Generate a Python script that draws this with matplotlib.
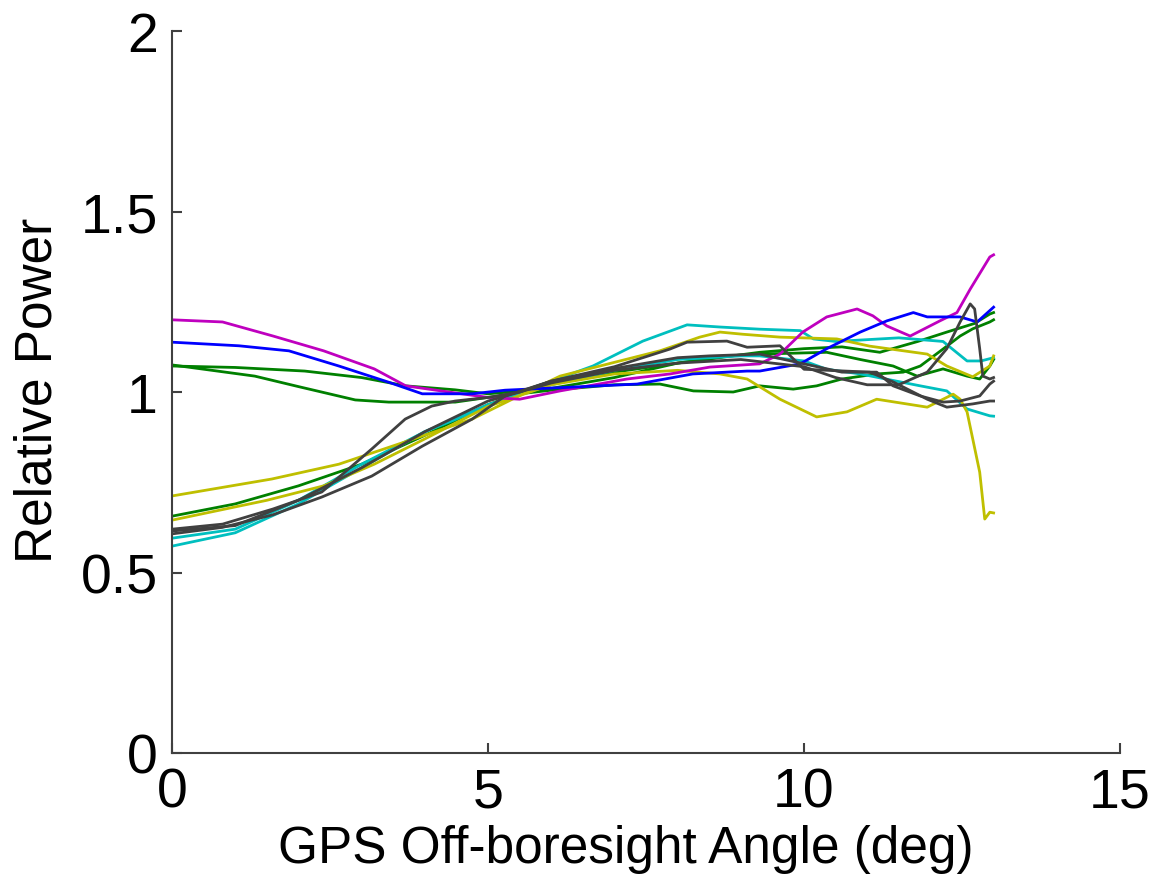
import numpy as np
import matplotlib.pyplot as plt

plt.rcParams['font.family'] = ['Liberation Sans', 'DejaVu Sans']

# relative power vs off-boresight angle, one curve per satellite pass
magenta_x = [0, 0.8, 1.6, 2.4, 3.2, 3.7, 4.5, 5.0, 5.5, 6.14, 7.2, 7.88, 8.51, 9.3, 9.62, 9.98, 10.36, 10.84, 11.09, 11.31, 11.68, 12.15, 12.42, 12.63, 12.94, 13.0]
magenta_y = [1.20, 1.194, 1.155, 1.114, 1.064, 1.017, 0.997, 0.985, 0.98, 1.003, 1.036, 1.05, 1.069, 1.078, 1.105, 1.166, 1.208, 1.23, 1.211, 1.183, 1.155, 1.197, 1.22, 1.285, 1.374, 1.38]

blue_x = [0, 1.06, 1.85, 2.64, 3.43, 3.96, 4.75, 5.27, 6.14, 7.36, 8.24, 9.1, 9.3, 9.94, 10.36, 10.89, 11.31, 11.73, 11.95, 12.47, 12.74, 13.0]
blue_y = [1.138, 1.128, 1.114, 1.072, 1.027, 0.995, 0.995, 1.005, 1.012, 1.022, 1.05, 1.058, 1.058, 1.078, 1.12, 1.166, 1.197, 1.22, 1.208, 1.208, 1.194, 1.235]

greenA_x = [0, 1.0, 2.1, 3.0, 3.7, 4.48, 5.0, 6.0, 7.0, 8.0, 9.3, 10.0, 10.6, 11.2, 11.8, 12.26, 12.7, 12.94, 13.0]
greenA_y = [1.072, 1.068, 1.058, 1.04, 1.017, 1.006, 0.995, 1.01, 1.04, 1.08, 1.11, 1.12, 1.125, 1.11, 1.14, 1.166, 1.19, 1.216, 1.22]

greenB_x = [0, 1.31, 2.0, 2.9, 3.43, 4.48, 5.0, 6.0, 7.0, 7.72, 8.25, 8.88, 9.3, 9.83, 10.2, 10.6, 11.15, 11.57, 11.84, 12.2, 12.47, 12.67, 12.94, 13.0]
greenB_y = [1.075, 1.044, 1.015, 0.978, 0.972, 0.972, 0.985, 1.005, 1.02, 1.022, 1.003, 1.0, 1.017, 1.008, 1.017, 1.036, 1.05, 1.055, 1.072, 1.119, 1.155, 1.175, 1.194, 1.20]

greenC_x = [0, 1.0, 2.0, 3.0, 4.0, 5.0, 6.0, 7.0, 8.0, 8.8, 9.3, 10.36, 10.89, 11.41, 11.79, 12.2, 12.58, 12.78, 12.94, 13.0]
greenC_y = [0.656, 0.69, 0.74, 0.80, 0.88, 0.965, 1.025, 1.055, 1.08, 1.10, 1.105, 1.11, 1.09, 1.072, 1.044, 1.064, 1.044, 1.036, 1.072, 1.09]

yellowA_x = [0, 1.58, 2.64, 3.69, 4.75, 5.5, 6.14, 7.2, 7.72, 8.35, 8.67, 9.03, 9.62, 10.52, 11.04, 11.95, 12.26, 12.67, 12.94, 13.0]
yellowA_y = [0.712, 0.759, 0.80, 0.862, 0.925, 0.99, 1.044, 1.091, 1.114, 1.152, 1.166, 1.16, 1.152, 1.147, 1.127, 1.105, 1.072, 1.042, 1.072, 1.10]

yellowB_x = [0, 1.5, 2.4, 3.2, 4.0, 5.0, 6.0, 7.0, 8.0, 8.67, 9.1, 9.62, 10.2, 10.68, 11.15, 11.95, 12.36, 12.47, 12.58, 12.67, 12.78, 12.86, 12.94, 13.0]
yellowB_y = [0.645, 0.70, 0.74, 0.80, 0.87, 0.96, 1.02, 1.05, 1.06, 1.05, 1.036, 0.98, 0.931, 0.945, 0.98, 0.958, 0.994, 0.98, 0.945, 0.87, 0.778, 0.648, 0.667, 0.665]

cyanA_x = [0, 1.0, 2.0, 3.0, 4.0, 5.0, 5.5, 6.0, 6.66, 7.45, 8.15, 8.67, 9.3, 9.94, 10.15, 10.5, 11.5, 12.2, 12.58, 12.8, 13.0]
cyanA_y = [0.573, 0.61, 0.69, 0.79, 0.89, 0.96, 1.0, 1.03, 1.072, 1.141, 1.186, 1.18, 1.174, 1.17, 1.147, 1.14, 1.15, 1.14, 1.086, 1.086, 1.095]

cyanB_x = [0, 1.0, 2.0, 3.0, 4.0, 5.0, 6.0, 7.0, 8.0, 9.0, 9.3, 10.0, 10.36, 10.89, 11.84, 12.26, 12.58, 12.94, 13.0]
cyanB_y = [0.595, 0.62, 0.70, 0.80, 0.89, 0.965, 1.02, 1.06, 1.09, 1.10, 1.10, 1.086, 1.063, 1.05, 1.017, 1.003, 0.953, 0.934, 0.933]

grayA_x = [0, 0.8, 1.6, 2.37, 3.16, 3.69, 4.11, 4.48, 5.0, 5.5, 6.0, 7.0, 7.88, 8.15, 8.78, 9.1, 9.62, 10.0, 11.04, 11.41, 11.95, 12.26, 12.67, 12.94, 13.0]
grayA_y = [0.62, 0.634, 0.676, 0.723, 0.842, 0.925, 0.961, 0.975, 0.985, 1.0, 1.03, 1.07, 1.119, 1.138, 1.141, 1.124, 1.128, 1.063, 1.055, 1.028, 0.98, 0.958, 0.967, 0.975, 0.975]

grayB_x = [0, 0.8, 1.6, 2.37, 3.16, 3.96, 4.75, 5.27, 6.0, 7.0, 8.0, 8.5, 9.3, 10.0, 10.6, 11.15, 11.41, 11.84, 12.2, 12.47, 12.78, 12.94, 13.0]
grayB_y = [0.607, 0.625, 0.66, 0.709, 0.767, 0.85, 0.925, 0.989, 1.03, 1.065, 1.095, 1.10, 1.105, 1.078, 1.055, 1.055, 1.017, 0.989, 0.972, 0.975, 0.989, 1.022, 1.03]

grayC_x = [0, 1.0, 2.0, 3.0, 4.0, 5.0, 6.0, 7.0, 8.0, 9.0, 10.0, 10.5, 11.0, 11.5, 11.95, 12.26, 12.47, 12.63, 12.7, 12.78, 12.83, 12.94, 13.0]
grayC_y = [0.615, 0.63, 0.70, 0.79, 0.89, 0.975, 1.025, 1.06, 1.08, 1.09, 1.07, 1.04, 1.02, 1.02, 1.055, 1.12, 1.194, 1.244, 1.23, 1.12, 1.044, 1.036, 1.04]

m = (0.75, 0, 0.75)
b = (0, 0, 1)
g = (0, 0.5, 0)
c = (0, 0.75, 0.75)
y = (0.75, 0.75, 0)
k = (0.25, 0.25, 0.25)

curves = [
    (greenB_x, greenB_y, g),
    (greenA_x, greenA_y, g),
    (greenC_x, greenC_y, g),
    (cyanA_x, cyanA_y, c),
    (cyanB_x, cyanB_y, c),
    (yellowA_x, yellowA_y, y),
    (yellowB_x, yellowB_y, y),
    (magenta_x, magenta_y, m),
    (blue_x, blue_y, b),
    (grayA_x, grayA_y, k),
    (grayB_x, grayB_y, k),
    (grayC_x, grayC_y, k),
]

fig = plt.figure(figsize=(11.57, 8.79), dpi=100)
ax = fig.add_axes([172/1157, 1-754/879, (1120-172)/1157, (754-32)/879])

for xs, ys, col in curves:
    ax.plot(xs, ys, color=col, lw=2.0)

ax.set_xlim(0, 15)
ax.set_ylim(0, 2)
ax.set_xticks([0, 5, 10, 15])
ax.set_yticks([0, 0.5, 1, 1.5, 2])
ax.set_yticklabels(['0', '0.5', '1', '1.5', '2'])
for s in ['top', 'right']:
    ax.spines[s].set_visible(False)
for s in ['left', 'bottom']:
    ax.spines[s].set_color('#404040')
    ax.spines[s].set_linewidth(1.5)
ax.tick_params(direction='in', length=7, width=1.5, color='#404040',
               labelsize=40, pad=10)

ax.set_xlabel('GPS Off-boresight Angle (deg)', fontsize=37)
ax.xaxis.label.set_va('baseline')
ax.xaxis.set_label_coords(0.479, -0.151)
ax.set_ylabel('Relative Power', fontsize=37)
ax.yaxis.label.set_va('baseline')
ax.yaxis.set_label_coords(-0.1266, 0.504)

fig.savefig('out.png', dpi=100)
